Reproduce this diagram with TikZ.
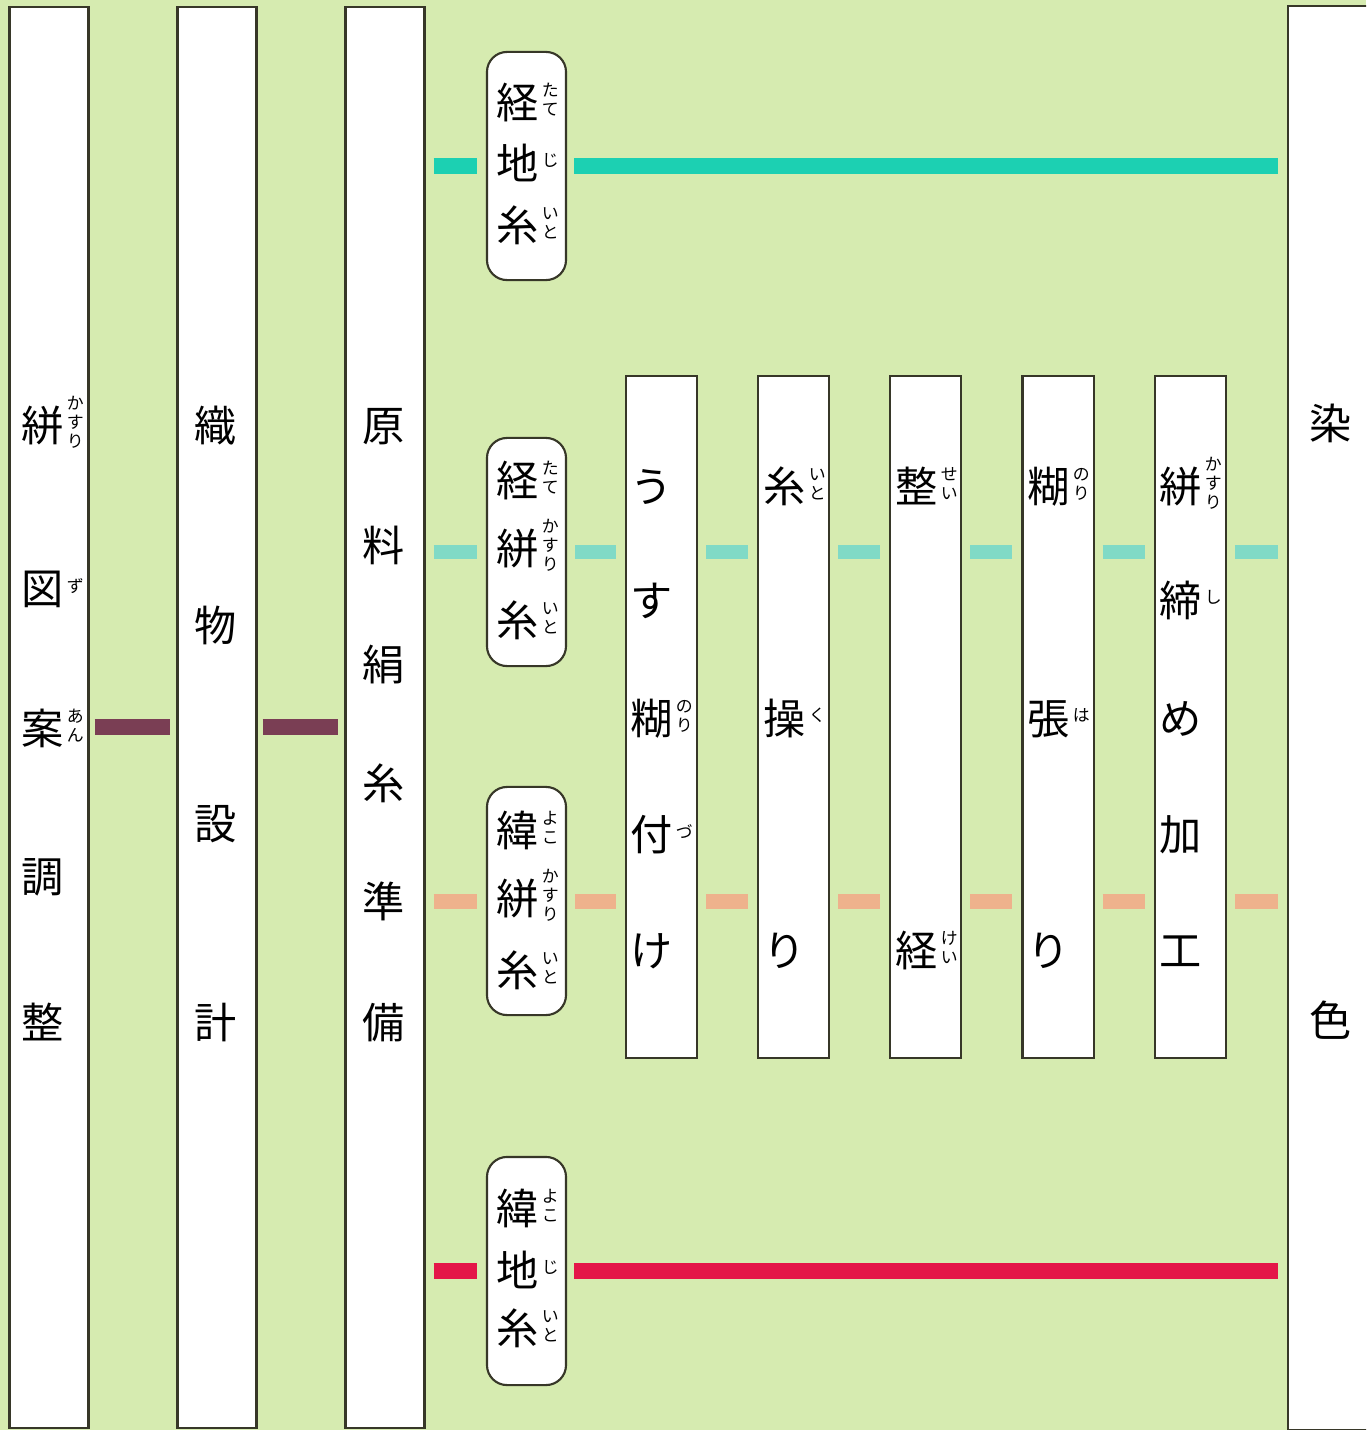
\documentclass[tikz,border=0pt]{standalone}
\usepackage{fontspec}
\setmainfont{Noto Sans CJK JP}
\usepackage{xcolor}
\usetikzlibrary{positioning}

\definecolor{leaf}{RGB}{214,235,176}
\definecolor{edge}{RGB}{55,55,40}
\definecolor{jiteal}{RGB}{28,208,178}
\definecolor{kasuteal}{RGB}{128,218,198}
\definecolor{peach}{RGB}{238,178,140}
\definecolor{crimson}{RGB}{228,22,72}
\definecolor{plum}{RGB}{122,62,84}

\newcommand{\rubyfont}{\fontsize{4.8}{5.3}\selectfont}
\newcommand{\rb}[2]{#1\rlap{\kern0.8pt\smash{\raisebox{\dimexpr4.6pt-0.5\height+0.5\depth\relax}{\rubyfont\begin{tabular}{@{}c@{}}#2\end{tabular}}}}}

\begin{document}
\begin{tikzpicture}[
    x=0.01cm, y=-0.01cm,
    node distance=0.59cm,
    lane/.style={rectangle, draw=edge, line width=0.6pt, fill=white, minimum width=0.79cm, minimum height=14.21cm, inner sep=0pt},
    yarn/.style={rectangle, rounded corners=0.2cm, draw=edge, line width=0.6pt, fill=white, minimum width=0.79cm, minimum height=2.28cm, inner sep=0pt},
    stepbox/.style={rectangle, draw=edge, line width=0.6pt, fill=white, minimum width=0.71cm, minimum height=6.82cm, inner sep=0pt},
    ch/.style={inner sep=0pt, text height=10.6pt, text depth=1.4pt, font=\fontsize{12}{14}\selectfont},
    bar/.style={line width=0.16cm, shorten <=0.08cm, shorten >=0.09cm}
]

\clip (0,0) rectangle (1366,1430);
\fill[leaf] (0,0) rectangle (1366,1430);

% Lanes
\node (zuan) [lane] at (49,717.5) {};
\node (sekkei) [lane] at (217,717.5) {};
\node (genryo) [lane] at (385,717.5) {};
\node (senshoku) [lane, minimum width=1.2cm, minimum height=14.23cm, anchor=north west] at (1287,5) {};

% Yarns
\node (tateji) [yarn] at (526.5,166) {};
\node (tatekasu) [yarn] at (526.5,552) {};
\node (yokokasu) [yarn] at (526.5,901) {};
\node (yokoji) [yarn] at (526.5,1271) {};

% Steps
\node (usunori) [stepbox] at (661.5,717) {};
\node (itokuri) [stepbox, right=of usunori] {};
\node (seikei) [stepbox, right=of itokuri] {};
\node (norihari) [stepbox, right=of seikei] {};
\node (shime) [stepbox, right=of norihari] {};

% Labels
\foreach \y/\t [count=\i] in {425/{\rb{絣}{か\\す\\り}}, 588/{\rb{図}{ず}}, 728/{\rb{案}{あ\\ん}}, 876/調, 1022/整}
  \node (zuan\i) [ch] at (43,\y) {\t};
\foreach \y/\t [count=\i] in {425/織, 625/物, 823/設, 1022/計}
  \node (sekkei\i) [ch] at (216,\y) {\t};
\foreach \y/\t [count=\i] in {425/原, 545/料, 664/絹, 783/糸, 901/準, 1022/備}
  \node (genryo\i) [ch] at (384,\y) {\t};
\node (senshoku1) [ch] at (1331,423) {染};
\node (senshoku2) [ch] at (1331,1020) {色};

\foreach \y/\t [count=\i] in {102/{\rb{経}{た\\て}}, 163/{\rb{地}{じ}}, 225/{\rb{糸}{い\\と}}}
  \node (tateji\i) [ch] at (518,\y) {\t};
\foreach \y/\t [count=\i] in {480/{\rb{経}{た\\て}}, 548/{\rb{絣}{か\\す\\り}}, 620/{\rb{糸}{い\\と}}}
  \node (tatekasu\i) [ch] at (518,\y) {\t};
\foreach \y/\t [count=\i] in {830/{\rb{緯}{よ\\こ}}, 898/{\rb{絣}{か\\す\\り}}, 970/{\rb{糸}{い\\と}}}
  \node (yokokasu\i) [ch] at (518,\y) {\t};
\foreach \y/\t [count=\i] in {1208/{\rb{緯}{よ\\こ}}, 1270/{\rb{地}{じ}}, 1328/{\rb{糸}{い\\と}}}
  \node (yokoji\i) [ch] at (518,\y) {\t};

\foreach \y/\t [count=\i] in {486/う, 600/す, 718/{\rb{糊}{の\\り}}, 834/{\rb{付}{づ}}, 950/け}
  \node (usunori\i) [ch] at (652,\y) {\t};
\foreach \y/\t [count=\i] in {486/{\rb{糸}{い\\と}}, 718/{\rb{操}{く}}, 950/り}
  \node (itokuri\i) [ch] at (785,\y) {\t};
\foreach \y/\t [count=\i] in {486/{\rb{整}{せ\\い}}, 950/{\rb{経}{け\\い}}}
  \node (seikei\i) [ch] at (917,\y) {\t};
\foreach \y/\t [count=\i] in {486/{\rb{糊}{の\\り}}, 718/{\rb{張}{は}}, 950/り}
  \node (norihari\i) [ch] at (1049,\y) {\t};
\foreach \y/\t [count=\i] in {486/{\rb{絣}{か\\す\\り}}, 600/{\rb{締}{し}}, 718/め, 834/加, 950/工}
  \node (shime\i) [ch] at (1181,\y) {\t};

% Bars
\coordinate (anbar) at (0,727);
\draw [bar, plum, shorten <=0.05cm, shorten >=0.06cm] (zuan.east |- anbar) -- (sekkei.west |- anbar);
\draw [bar, plum, shorten <=0.05cm, shorten >=0.06cm] (sekkei.east |- anbar) -- (genryo.west |- anbar);

\draw [bar, jiteal] (genryo.east |- tateji) -- (tateji.west);
\draw [bar, jiteal, shorten <=0.07cm] (tateji.east) -- (senshoku.west |- tateji);

\foreach \a/\b in {genryo/tatekasu, tatekasu/usunori, usunori/itokuri, itokuri/seikei, seikei/norihari, norihari/shime, shime/senshoku}
  \draw [bar, kasuteal, line width=0.14cm] (\a.east |- tatekasu) -- (\b.west |- tatekasu);
\foreach \a/\b in {genryo/yokokasu, yokokasu/usunori, usunori/itokuri, itokuri/seikei, seikei/norihari, norihari/shime, shime/senshoku}
  \draw [bar, peach, line width=0.15cm] (\a.east |- yokokasu) -- (\b.west |- yokokasu);

\draw [bar, crimson] (genryo.east |- yokoji) -- (yokoji.west);
\draw [bar, crimson, shorten <=0.07cm] (yokoji.east) -- (senshoku.west |- yokoji);

\end{tikzpicture}
\end{document}
